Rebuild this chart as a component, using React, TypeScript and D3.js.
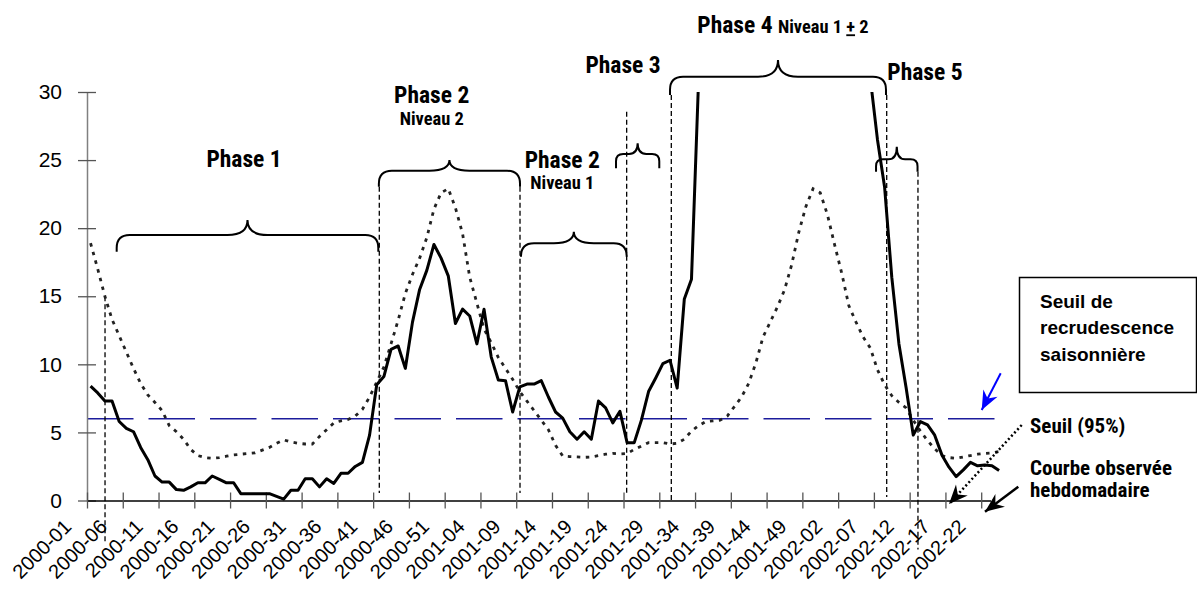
import React, { useEffect, useRef } from "react";
import * as d3 from "d3";

const WIDTH = 1197;
const HEIGHT = 595;

// Week labels, one every 5 weeks
const weekLabels = [
  "2000-01", "2000-06", "2000-11", "2000-16", "2000-21", "2000-26", "2000-31", "2000-36", "2000-41", "2000-46", "2000-51",
  "2001-04", "2001-09", "2001-14", "2001-19", "2001-24", "2001-29", "2001-34", "2001-39", "2001-44", "2001-49",
  "2002-02", "2002-07", "2002-12", "2002-17", "2002-22",
];
const LABEL_STEP = 5;
const yTicks = [0, 5, 10, 15, 20, 25, 30];

// Weekly observed curve (2000-01 .. 2002-25). null = epidemic peak above the axis max, not drawn
const observed: (number | null)[] = [
  8.4, 7.9, 7.3, 7.3, 5.8, 5.3, 5.05, 3.9, 3.0, 1.8,
  1.35, 1.35, 0.8, 0.75, 1.0, 1.3, 1.3, 1.8, 1.55, 1.3,
  1.3, 0.5, 0.5, 0.5, 0.5, 0.5, 0.3, 0.1, 0.75, 0.75,
  1.6, 1.6, 1.0, 1.6, 1.25, 2.0, 2.0, 2.5, 2.8, 4.8,
  8.5, 9.1, 11.1, 11.35, 9.7, 13.1, 15.5, 16.9, 18.8, 17.8,
  16.5, 13.0, 14.05, 13.55, 11.5, 14.05, 10.55, 8.85, 8.8, 6.5,
  8.35, 8.55, 8.55, 8.8, 7.6, 6.5, 6.05, 5.05, 4.5, 5.05,
  4.5, 7.3, 6.8, 5.7, 6.55, 4.25, 4.25, 5.9, 8.0, 9.0,
  10.05, 10.3, 8.25, 14.8, 16.25, 31,
  null, null, null, null, null, null, null, null, null, null,
  null, null, null, null, null, null, null, null, null, null,
  null, null, null,
  31, 26.5, 23.0, 16.4, 11.5, 8.3, 4.8, 5.8, 5.55, 4.8,
  3.35, 2.45, 1.75, 2.25, 2.8, 2.55, 2.6, 2.55, 2.2,
];

// Seuil (95%) – dotted curve
const seuil95 = [
  18.9, 17.0, 15.0, 13.3, 12.1, 10.9, 9.7, 8.6, 7.75, 7.2,
  6.6, 5.5, 5.05, 4.5, 3.75, 3.3, 3.15, 3.1, 3.15, 3.25,
  3.35, 3.4, 3.45, 3.5, 3.7, 3.9, 4.2, 4.45, 4.3, 4.2,
  4.15, 4.15, 4.7, 5.2, 5.7, 5.85, 5.95, 6.2, 6.7, 7.6,
  8.7, 9.8, 11.5, 13.25, 15.2, 16.6, 17.8, 19.3, 21.4, 22.6,
  22.9, 21.5, 19.6, 16.4, 14.5, 12.6, 11.6, 10.5, 9.7, 8.9,
  8.0, 7.3, 6.6, 5.9, 5.2, 4.05, 3.27, 3.22, 3.2, 3.17,
  3.2, 3.3, 3.4, 3.46, 3.42, 3.45, 3.75, 4.0, 4.25, 4.25,
  4.25, 4.15, 4.2, 4.5, 5.1, 5.5, 5.8, 5.85, 5.9, 6.2,
  6.9, 7.6, 8.6, 10.1, 12.0, 13.1, 14.2, 15.45, 17.3, 19.7,
  21.6, 22.9, 22.6, 21.0, 18.8, 16.7, 14.3, 13.1, 12.0, 11.2,
  9.6, 8.5, 7.7, 7.2, 6.8, 5.9, 5.1, 4.4, 3.8, 3.3,
  3.15, 3.1, 3.2, 3.3, 3.4, 3.46, 3.5, 3.6,
];

// Seuil de recrudescence saisonnière (horizontal dashed line)
const seuilRecrudescence = 6;

// Phase annotations, in week / value units
const phaseLines = [
  { week: 2.52, top: 15.0, bottom: -3.1 },
  { week: 40.86, top: 23.05, bottom: 0.55 },
  { week: 60.53, top: 23.05, bottom: 0.55 },
  { week: 75.44, top: 28.55, bottom: 0.55 },
  { week: 81.68, top: 29.78, bottom: -0.1 },
  { week: 111.79, top: 29.78, bottom: 0.26 },
  { week: 116.16, top: 24.15, bottom: -3.6 },
];
const braces = [
  { from: 4.15, to: 40.72, top: 19.5, tip: 20.6, end: 18.27 },
  { from: 40.8, to: 60.53, top: 24.22, tip: 25.0, end: 23.05 },
  { from: 60.67, to: 75.44, top: 18.9, tip: 19.74, end: 17.9 },
  { from: 73.95, to: 80.0, top: 25.45, tip: 26.23, end: 24.4 },
  { from: 81.5, to: 111.69, top: 31.12, tip: 32.35, end: 29.78 },
  { from: 110.3, to: 116.1, top: 25.06, tip: 25.98, end: 24.15 },
];
const phaseTitles = [
  { text: "Phase 1", week: 21.95, value: 24.5 },
  { text: "Phase 2", week: 48.19, value: 29.21, sub: "Niveau 2", subValue: 27.58 },
  { text: "Phase 2", week: 66.44, value: 24.4, sub: "Niveau 1", subValue: 22.87 },
  { text: "Phase 3", week: 74.93, value: 31.37 },
  { text: "Phase 5", week: 117.14, value: 30.88 },
];

const NARROW = "'Liberation Sans Narrow', 'Arial Narrow', 'Roboto Condensed', sans-serif";
const SANS = "'Liberation Sans', Arial, sans-serif";

export default function App() {
  const svgRef = useRef<SVGSVGElement>(null);

  useEffect(() => {
    if (!svgRef.current) return;
    const svg = d3.select(svgRef.current);
    svg.selectAll("*").remove();

    // axis stops a little after the last labelled week
    const x = d3.scaleLinear().domain([0, 126.3]).range([87, 990.5]);
    const y = d3.scaleLinear().domain([0, 30]).range([500.5, 92]);
    const cx = (i: number) => x(i + 0.5); // centre of week i

    const defs = svg.append("defs");
    defs
      .append("clipPath")
      .attr("id", "plot-clip")
      .append("rect")
      .attr("x", x(0))
      .attr("y", y(30))
      .attr("width", WIDTH - x(0))
      .attr("height", y(0) - y(30) + 20);

    const addMarker = (id: string, color: string) => {
      defs
        .append("marker")
        .attr("id", id)
        .attr("viewBox", "-20 -10 22 20")
        .attr("refX", 0)
        .attr("refY", 0)
        .attr("markerWidth", 22)
        .attr("markerHeight", 20)
        .attr("markerUnits", "userSpaceOnUse")
        .attr("orient", "auto")
        .append("path")
        .attr("d", "M0,0 L-19,-8 L-13,0 L-19,8 Z")
        .attr("fill", color);
    };
    addMarker("arrow-blue", "#0000ff");
    addMarker("arrow-black", "#000");

    // Blue seasonal threshold
    svg
      .append("line")
      .attr("x1", x(0))
      .attr("x2", x(127.2))
      .attr("y1", y(seuilRecrudescence))
      .attr("y2", y(seuilRecrudescence))
      .attr("stroke", "#1c1c9c")
      .attr("stroke-width", 1.5)
      .attr("stroke-dasharray", "46.5,15");

    // Phase dashed separators
    svg
      .append("g")
      .selectAll("line")
      .data(phaseLines)
      .join("line")
      .attr("x1", (d) => x(d.week))
      .attr("x2", (d) => x(d.week))
      .attr("y1", (d) => y(d.top))
      .attr("y2", (d) => y(d.bottom))
      .attr("stroke", "#000")
      .attr("stroke-width", 1.3)
      .attr("stroke-dasharray", "5,3");

    // Braces
    const bracePath = (b: typeof braces[number]) => {
      const x1 = x(b.from);
      const x2 = x(b.to);
      const xm = (x1 + x2) / 2;
      const yt = y(b.top);
      const yp = y(b.tip);
      const ye = y(b.end);
      const r = Math.min(13, (x2 - x1) / 6, ye - yt);
      const t = Math.min(20, (x2 - x1) / 5);
      return `M${x1},${ye} L${x1},${yt + r} Q${x1},${yt} ${x1 + r},${yt} L${xm - t},${yt} Q${xm},${yt} ${xm},${yp} Q${xm},${yt} ${xm + t},${yt} L${x2 - r},${yt} Q${x2},${yt} ${x2},${yt + r} L${x2},${ye}`;
    };
    svg
      .append("g")
      .selectAll("path")
      .data(braces)
      .join("path")
      .attr("d", bracePath)
      .attr("fill", "none")
      .attr("stroke", "#000")
      .attr("stroke-width", 2);

    // Axes
    const yAxis = svg
      .append("g")
      .attr("transform", `translate(${x(0)},0)`)
      .call(d3.axisLeft(y).tickValues(yTicks).tickSizeInner(9).tickSizeOuter(0).tickPadding(16));
    yAxis.select(".domain").attr("stroke", "#808080").attr("stroke-width", 1.5);
    yAxis.selectAll(".tick line").attr("x1", 9).attr("stroke", "#555").attr("stroke-width", 1.3);
    yAxis
      .selectAll("text")
      .attr("fill", "#000")
      .style("font-family", SANS)
      .style("font-size", "21px");

    const xAxis = svg
      .append("g")
      .attr("transform", `translate(0,${y(0)})`)
      .call(
        d3
          .axisBottom(x)
          .tickValues(d3.range(0, weekLabels.length * LABEL_STEP, LABEL_STEP))
          .tickSizeInner(8)
          .tickSizeOuter(0)
          .tickFormat(() => "")
      );
    xAxis.select(".domain").attr("stroke", "#000").attr("stroke-width", 1.5);
    xAxis.selectAll(".tick line").attr("y1", -8).attr("stroke", "#555").attr("stroke-width", 1.3);

    svg
      .append("g")
      .selectAll("text")
      .data(weekLabels)
      .join("text")
      .attr("transform", (_d, k) => `translate(${cx(k * LABEL_STEP) - 18},${y(0) + 27.5}) rotate(-45)`)
      .attr("text-anchor", "end")
      .attr("fill", "#000")
      .style("font-family", SANS)
      .style("font-size", "20px")
      .text((d) => d);

    // Curves
    const dotted = d3
      .line<number>()
      .x((_d, i) => cx(i))
      .y((d) => y(d));
    svg
      .append("path")
      .datum(seuil95)
      .attr("d", dotted)
      .attr("fill", "none")
      .attr("stroke", "#222")
      .attr("stroke-width", 2.8)
      .attr("stroke-dasharray", "3.5,5.5");

    const solid = d3
      .line<number | null>()
      .defined((d) => d !== null)
      .x((_d, i) => cx(i))
      .y((d) => y(d as number));
    svg
      .append("path")
      .datum(observed)
      .attr("d", solid)
      .attr("clip-path", "url(#plot-clip)")
      .attr("fill", "none")
      .attr("stroke", "#000")
      .attr("stroke-width", 3)
      .attr("stroke-linejoin", "round");

    // Phase titles
    const titles = svg.append("g").style("font-family", NARROW).style("font-weight", "bold").attr("fill", "#000");
    phaseTitles.forEach((p) => {
      titles
        .append("text")
        .attr("x", x(p.week))
        .attr("y", y(p.value))
        .attr("text-anchor", "middle")
        .style("font-size", "23.5px")
        .text(p.text);
      if (p.sub) {
        titles
          .append("text")
          .attr("x", x(p.week))
          .attr("y", y(p.subValue as number))
          .attr("text-anchor", "middle")
          .style("font-size", "18.4px")
          .text(p.sub);
      }
    });
    const p4 = titles.append("text").attr("x", x(85.32)).attr("y", y(34.31)).style("font-size", "23.5px");
    p4.append("tspan").text("Phase 4 ");
    p4.append("tspan").style("font-size", "18.4px").text("Niveau 1 ");
    p4.append("tspan").style("font-size", "18.4px").style("text-decoration", "underline").text("+");
    p4.append("tspan").style("font-size", "18.4px").text(" 2");

    // Legend box
    svg
      .append("rect")
      .attr("x", 1019.5)
      .attr("y", 277.5)
      .attr("width", 177)
      .attr("height", 115)
      .attr("fill", "#fff")
      .attr("stroke", "#000")
      .attr("stroke-width", 1.5);
    const box = svg
      .append("text")
      .attr("fill", "#000")
      .style("font-family", SANS)
      .style("font-weight", "bold")
      .style("font-size", "19px");
    ["Seuil de", "recrudescence", "saisonnière"].forEach((line, k) => {
      box.append("tspan").attr("x", 1040).attr("y", 308 + k * 26.3).text(line);
    });

    // Blue arrow toward threshold line
    svg
      .append("line")
      .attr("x1", 1000.7)
      .attr("y1", 373.3)
      .attr("x2", 981.7)
      .attr("y2", 410)
      .attr("stroke", "#0000ff")
      .attr("stroke-width", 2)
      .attr("marker-end", "url(#arrow-blue)");

    const legendText = svg
      .append("g")
      .style("font-family", NARROW)
      .style("font-weight", "bold")
      .style("font-size", "21px")
      .attr("fill", "#000");
    legendText.append("text").attr("x", 1030).attr("y", 433.3).text("Seuil (95%)");
    legendText.append("text").attr("x", 1030).attr("y", 475).text("Courbe observée");
    legendText.append("text").attr("x", 1030).attr("y", 496.7).text("hebdomadaire");

    svg
      .append("line")
      .attr("x1", 1021.7)
      .attr("y1", 425)
      .attr("x2", 949)
      .attr("y2", 504)
      .attr("stroke", "#000")
      .attr("stroke-width", 2.5)
      .attr("stroke-dasharray", "2,2.5")
      .attr("marker-end", "url(#arrow-black)");
    svg
      .append("line")
      .attr("x1", 1018.3)
      .attr("y1", 486.7)
      .attr("x2", 985)
      .attr("y2", 511.7)
      .attr("stroke", "#000")
      .attr("stroke-width", 2.5)
      .attr("marker-end", "url(#arrow-black)");
  }, []);

  return (
    <svg
      ref={svgRef}
      width={WIDTH}
      height={HEIGHT}
      style={{ position: "absolute", left: 0, top: 0, background: "#fff", display: "block" }}
    />
  );
}
